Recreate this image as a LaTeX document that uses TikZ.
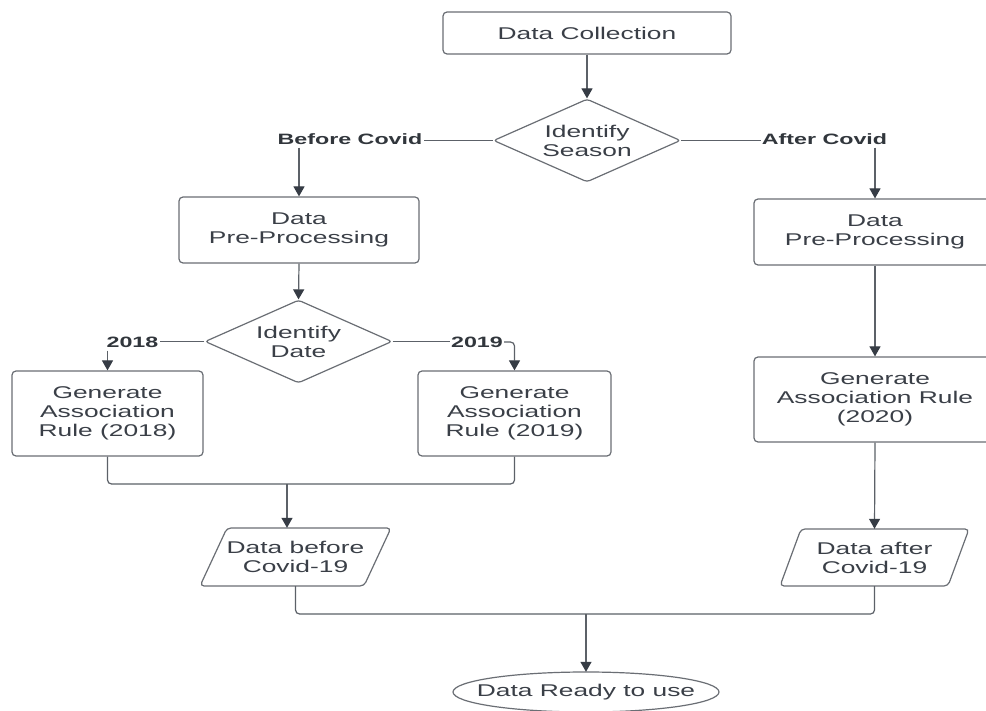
\documentclass[tikz,border=0pt]{standalone}
\usepackage{fontspec}
\setmainfont[FakeStretch=1.55]{Liberation Sans}
\usetikzlibrary{shapes.geometric,arrows.meta,calc}
\definecolor{txt}{HTML}{3A3F47}
\definecolor{edgec}{HTML}{6A6E74}
\definecolor{connc}{HTML}{5C6168}
\definecolor{tipc}{HTML}{363C45}
\begin{document}
\begin{tikzpicture}[x=1pt,y=-1pt,
  every node/.style={text=txt, font=\fontsize{17}{19}\selectfont},
  box/.style={draw=edgec, line width=1.2pt, rounded corners=4pt, align=center, inner sep=0pt},
  dia/.style={diamond, aspect=2.25, draw=edgec, line width=1.2pt, rounded corners=3pt, align=center, inner sep=0pt, minimum width=187pt, minimum height=83pt},
  lbl/.style={font=\fontsize{15}{17}\selectfont\bfseries, text=txt!85!black, inner sep=1pt},
  plain/.style={inner sep=0pt, align=center},
  conn/.style={draw=connc, line width=1.2pt, rounded corners=4pt},
  arr/.style={conn, -{Triangle[width=11pt,length=10pt,color=tipc]}},
  shapeline/.style={draw=edgec, line width=1.2pt, rounded corners=4pt}
]
\useasboundingbox (0,0) rectangle (986,711);
\fill[white] (0,0) rectangle (986,711);
\clip (0,0) rectangle (986,711);

% nodes
\node[box, minimum width=288pt, minimum height=42pt] (dc) at (587,33) {Data Collection};
\node[dia] (is) at (587,140.5) {Identify\\Season};
\node[lbl] (bcl) at (350,139) {Before Covid};
\node[lbl] (acl) at (824.5,139) {After Covid};
\node[box, minimum width=240pt, minimum height=66pt] (ppl) at (299,230) {Data\\Pre-Processing};
\node[box, minimum width=242pt, minimum height=66pt] (ppr) at (875,232) {Data\\Pre-Processing};
\node[dia] (id) at (298.5,341.5) {Identify\\Date};
\node[lbl] (l18) at (132.5,342) {2018};
\node[lbl] (l19) at (477,342) {2019};
\node[box, minimum width=191pt, minimum height=85pt] (g18) at (107.5,413.5) {Generate\\Association\\Rule (2018)};
\node[box, minimum width=193pt, minimum height=85pt] (g19) at (514.5,413.5) {Generate\\Association\\Rule (2019)};
\node[box, minimum width=242pt, minimum height=85pt] (g20) at (875,399.5) {Generate\\Association Rule\\(2020)};

% parallelograms
\node[plain, minimum width=164pt, minimum height=58pt] (dbc) at (295.5,557) {Data before\\Covid-19};
\draw[shapeline] (227,528) -- (391,528) -- (364,586) -- (200,586) -- cycle;
\node[plain, minimum width=164pt, minimum height=57pt] (dac) at (874.5,557.5) {Data after\\Covid-19};
\draw[shapeline] (801,529) -- (969,529) -- (948,586) -- (780,586) -- cycle;

% terminal
\node[plain, minimum width=266pt, minimum height=40pt] (er) at (586,692) {Data Ready to use};
\draw[draw=edgec, line width=1.2pt] (er.center) ellipse [x radius=133, y radius=20];

\coordinate (m1) at (287,484);
\coordinate (m2) at (586,614);

% connectors
\draw[arr] (dc.south) -- (is.north);
\draw[conn] (is.west) -- (is.west -| bcl.east);
\draw[arr] (ppl.north |- bcl.south) ++(0,2) -- (ppl.north);
\draw[conn] (is.east) -- (is.east -| acl.west);
\draw[arr] (ppr.north |- acl.south) ++(0,2) -- (ppr.north);
\draw[arr] (ppl.south) -- (id.north);
\draw[conn] (id.west) -- (id.west -| l18.east);
\draw[arr] (g18.north |- l18.south) ++(0,2) -- (g18.north);
\draw[conn] (id.east) -- (id.east -| l19.west);
\draw[arr] (l19.east) -| (g19.north);
\draw[conn] (g18.south) |- (m1) -| (g19.south);
\draw[arr] (m1) -- (m1 |- dbc.north);
\draw[arr] (ppr.south) -- (g20.north);
\draw[arr] (g20.south) -- (dac.north);
\draw[conn] (dbc.south) |- (m2) -| (dac.south);
\draw[arr] (m2) -- (er.north);
\end{tikzpicture}
\end{document}
